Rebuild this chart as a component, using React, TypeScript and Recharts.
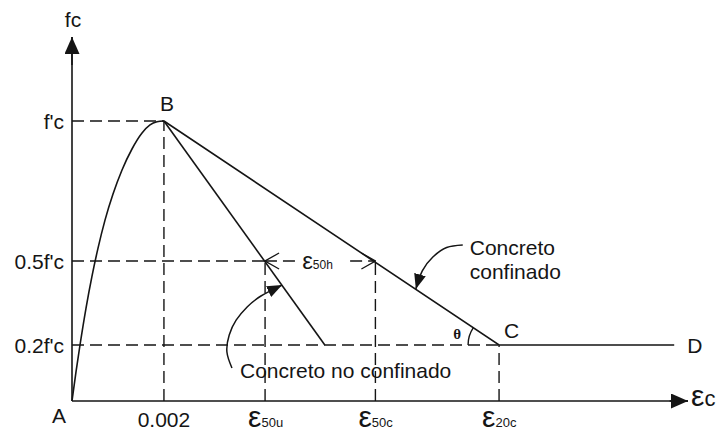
import React from 'react';
import { ComposedChart, Line, XAxis, YAxis, ReferenceLine, ReferenceDot } from 'recharts';

// strains on the horizontal axis
const strainPeak = 0.002;
const e50u = 0.0042;
const e50c = 0.0066;
const e20c = 0.00929;
const unconfinedEnd = 0.0055;
const plateauEnd = 0.0131;
const xMax = 0.0134;
const yMax = 1.3;

// stress levels as a fraction of f'c
const yTicks = [0.2, 0.5, 1];
const yTickLabels = ["0.2f'c", "0.5f'c", "f'c"];

const xTicks = [0, strainPeak, e50u, e50c, e20c];
const xTickMain = ['A', '0.002', 'ε', 'ε', 'ε'];
const xTickSub = ['', '', '50u', '50c', '20c'];

// A -> B
const ascending = [
  { x: 0, y: 0 },
  { x: 0.000087, y: 0.104 },
  { x: 0.000174, y: 0.2 },
  { x: 0.000305, y: 0.332 },
  { x: 0.000435, y: 0.446 },
  { x: 0.000566, y: 0.546 },
  { x: 0.000718, y: 0.646 },
  { x: 0.000892, y: 0.739 },
  { x: 0.001088, y: 0.825 },
  { x: 0.001305, y: 0.9 },
  { x: 0.001523, y: 0.957 },
  { x: 0.001697, y: 0.986 },
  { x: 0.001849, y: 0.997 },
  { x: strainPeak, y: 1 },
];

const unconfined = [
  { x: strainPeak, y: 1 },
  { x: unconfinedEnd, y: 0.2 },
];

const confined = [
  { x: strainPeak, y: 1 },
  { x: e20c, y: 0.2 },
  { x: plateauEnd, y: 0.2 },
];

// leader arrows of the two notes
const confinedPointer = [
  { x: 0.0085, y: 0.557 },
  { x: 0.00815, y: 0.548 },
  { x: 0.00785, y: 0.514 },
  { x: 0.00762, y: 0.465 },
  { x: 0.00748, y: 0.4 },
];

const unconfinedPointer = [
  { x: 0.00348, y: 0.118 },
  { x: 0.00337, y: 0.175 },
  { x: 0.00342, y: 0.236 },
  { x: 0.00357, y: 0.289 },
  { x: 0.00381, y: 0.336 },
  { x: 0.00411, y: 0.375 },
  { x: 0.00457, y: 0.414 },
];

const dimLeft = [
  { x: 0.00485, y: 0.5 },
  { x: e50u, y: 0.5 },
];
const dimRight = [
  { x: 0.00605, y: 0.5 },
  { x: e50c, y: 0.5 },
];

const yArrow = [
  { x: 0, y: 1.2 },
  { x: 0, y: yMax },
];
const xArrow = [
  { x: 0.013, y: 0 },
  { x: xMax, y: 0 },
];

const ink = '#151515';
const font = { fontFamily: '"Liberation Sans", Arial, sans-serif', fill: ink };
const dash = '12 6';

const XTick = ({ x, y, payload }: any) => {
  const i = xTicks.findIndex((v) => Math.abs(v - payload.value) < 1e-9);
  if (i < 0) return null;
  if (i === 0) {
    return (
      <text x={x - 13} y={y + 22} textAnchor="middle" fontSize={21} style={font}>
        {xTickMain[i]}
      </text>
    );
  }
  if (!xTickSub[i]) {
    return (
      <text x={x} y={y + 26} textAnchor="middle" fontSize={21} style={font}>
        {xTickMain[i]}
      </text>
    );
  }
  return (
    <text x={x - 17} y={y + 26} style={font}>
      <tspan fontSize={30}>{xTickMain[i]}</tspan>
      <tspan fontSize={13}>{xTickSub[i]}</tspan>
    </text>
  );
};

const YTick = ({ x, y, payload }: any) => {
  const i = yTicks.findIndex((v) => Math.abs(v - payload.value) < 1e-9);
  if (i < 0) return null;
  return (
    <text x={x - 8} y={y + 8} textAnchor="end" fontSize={21} style={font}>
      {yTickLabels[i]}
    </text>
  );
};

const note = (text: string, dx: number, dy: number, size = 21, anchor = 'start') =>
  ({ cx, cy }: any) => (
    <text x={cx + dx} y={cy + dy} fontSize={size} textAnchor={anchor} style={font}>
      {text}
    </text>
  );

const thetaArc = ({ cx, cy }: any) => {
  const r = 31;
  const a = (34 * Math.PI) / 180;
  return (
    <path
      d={`M${cx - r},${cy} A${r},${r} 0 0,1 ${cx - r * Math.cos(a)},${cy - r * Math.sin(a)}`}
      fill="none"
      stroke={ink}
      strokeWidth={1.4}
    />
  );
};

export default function App() {
  const solid = { stroke: ink, strokeWidth: 1.6, dot: false, activeDot: false, isAnimationActive: false };
  return (
    <div style={{ position: 'absolute', left: 0, top: 0, background: '#fff' }}>
      <svg width={0} height={0} style={{ position: 'absolute' }}>
        <defs>
          <marker id="axisArrow" markerUnits="userSpaceOnUse" markerWidth={17} markerHeight={15}
            refX={17} refY={7.5} orient="auto" viewBox="0 0 17 15">
            <path d="M0,0 L17,7.5 L0,15 Z" fill={ink} />
          </marker>
          <marker id="noteArrow" markerUnits="userSpaceOnUse" markerWidth={15} markerHeight={12}
            refX={15} refY={6} orient="auto" viewBox="0 0 15 12">
            <path d="M0,0 L15,6 L0,12 Z" fill={ink} />
          </marker>
          <marker id="openArrow" markerUnits="userSpaceOnUse" markerWidth={16} markerHeight={18}
            refX={15} refY={9} orient="auto" viewBox="0 0 16 18">
            <path d="M1,1 L15,9 L1,17" fill="none" stroke={ink} strokeWidth={1.3} />
          </marker>
        </defs>
      </svg>
      <ComposedChart width={716} height={432} margin={{ top: 37, right: 28, bottom: 0, left: 0 }}>
        <XAxis
          type="number"
          dataKey="x"
          domain={[0, xMax]}
          ticks={xTicks}
          interval={0}
          height={31}
          tickSize={0}
          tickMargin={0}
          tickLine={false}
          axisLine={{ stroke: ink, strokeWidth: 1.6 }}
          tick={<XTick />}
        />
        <YAxis
          type="number"
          dataKey="y"
          domain={[0, yMax]}
          ticks={yTicks}
          interval={0}
          width={72}
          tickSize={0}
          tickMargin={0}
          tickLine={false}
          axisLine={{ stroke: ink, strokeWidth: 1.6 }}
          tick={<YTick />}
        />

        {/* dashed guides */}
        <ReferenceLine segment={[{ x: 0, y: 1 }, { x: strainPeak, y: 1 }]} stroke={ink} strokeWidth={1.4} strokeDasharray={dash} />
        <ReferenceLine segment={[{ x: 0, y: 0.5 }, { x: e50u, y: 0.5 }]} stroke={ink} strokeWidth={1.4} strokeDasharray={dash} />
        <ReferenceLine segment={[{ x: 0, y: 0.2 }, { x: e20c, y: 0.2 }]} stroke={ink} strokeWidth={1.4} strokeDasharray={dash} />
        <ReferenceLine segment={[{ x: strainPeak, y: 0 }, { x: strainPeak, y: 1 }]} stroke={ink} strokeWidth={1.4} strokeDasharray={dash} />
        <ReferenceLine segment={[{ x: e50u, y: 0 }, { x: e50u, y: 0.5 }]} stroke={ink} strokeWidth={1.4} strokeDasharray={dash} />
        <ReferenceLine segment={[{ x: e50c, y: 0 }, { x: e50c, y: 0.5 }]} stroke={ink} strokeWidth={1.4} strokeDasharray={dash} />
        <ReferenceLine segment={[{ x: e20c, y: 0 }, { x: e20c, y: 0.2 }]} stroke={ink} strokeWidth={1.4} strokeDasharray={dash} />

        {/* stress-strain curves */}
        <Line data={ascending} dataKey="y" type="monotone" {...solid} />
        <Line data={unconfined} dataKey="y" type="linear" {...solid} />
        <Line data={confined} dataKey="y" type="linear" {...solid} />

        {/* ε50h dimension */}
        <Line data={dimLeft} dataKey="y" type="linear" {...solid} strokeWidth={1.4} strokeDasharray={dash} markerEnd="url(#openArrow)" />
        <Line data={dimRight} dataKey="y" type="linear" {...solid} strokeWidth={1.4} strokeDasharray={dash} markerEnd="url(#openArrow)" />

        {/* note leaders */}
        <Line data={confinedPointer} dataKey="y" type="natural" {...solid} strokeWidth={1.5} markerEnd="url(#noteArrow)" />
        <Line data={unconfinedPointer} dataKey="y" type="natural" {...solid} strokeWidth={1.5} markerEnd="url(#noteArrow)" />

        {/* axis arrow heads */}
        <Line data={yArrow} dataKey="y" type="linear" {...solid} markerEnd="url(#axisArrow)" />
        <Line data={xArrow} dataKey="y" type="linear" {...solid} markerEnd="url(#axisArrow)" />

        {/* labels */}
        <ReferenceDot x={0} y={yMax} r={0} shape={note('fc', 1, -10, 21, 'middle')} />
        <ReferenceDot x={xMax} y={0} r={0} shape={({ cx, cy }: any) => (
          <text x={cx + 3} y={cy + 5} style={font}>
            <tspan fontSize={30}>ε</tspan>
            <tspan fontSize={22}>c</tspan>
          </text>
        )} />
        <ReferenceDot x={strainPeak} y={1} r={0} shape={note('B', 3, -10, 21, 'middle')} />
        <ReferenceDot x={e20c} y={0.2} r={0} shape={note('C', 5, -7)} />
        <ReferenceDot x={plateauEnd} y={0.2} r={0} shape={note('D', 13, 8)} />
        <ReferenceDot x={e20c} y={0.2} r={0} shape={thetaArc} />
        <ReferenceDot x={e20c} y={0.2} r={0} shape={({ cx, cy }: any) => (
          <text x={cx - 42} y={cy - 6} fontSize={15} textAnchor="middle"
            style={{ ...font, fontFamily: '"Liberation Serif", serif', fontWeight: 'bold' }}>
            θ
          </text>
        )} />
        <ReferenceDot x={0.00542} y={0.5} r={0} shape={({ cx, cy }: any) => (
          <text x={cx - 19} y={cy + 8} style={font}>
            <tspan fontSize={24}>ε</tspan>
            <tspan fontSize={12}>50h</tspan>
          </text>
        )} />
        <ReferenceDot x={0.0085} y={0.557} r={0} shape={({ cx, cy }: any) => (
          <text x={cx + 7} y={cy + 10} fontSize={21} style={font}>
            <tspan x={cx + 7}>Concreto</tspan>
            <tspan x={cx + 7} dy={24}>confinado</tspan>
          </text>
        )} />
        <ReferenceDot x={0.00348} y={0.118} r={0} shape={note('Concreto no confinado', 8, 10)} />
      </ComposedChart>
    </div>
  );
}
